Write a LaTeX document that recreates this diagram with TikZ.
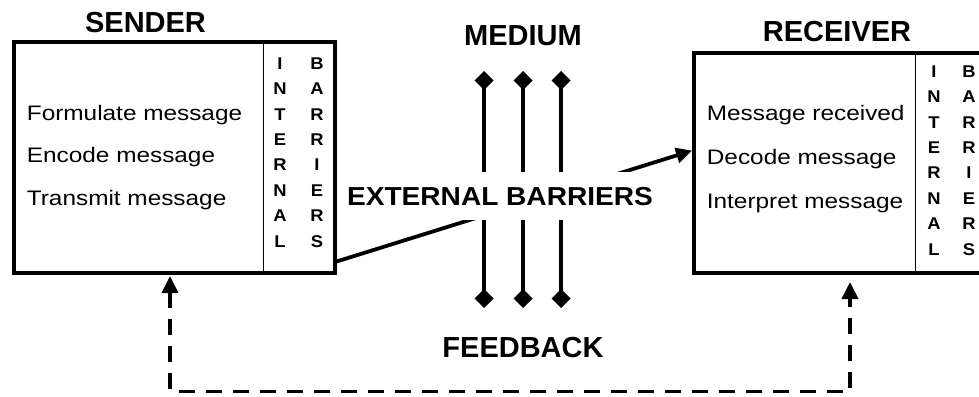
\documentclass[tikz,border=0pt]{standalone}
\usepackage{fontspec}
\setmainfont{Liberation Sans}
\newfontfamily\widesans[FakeStretch=1.16]{Liberation Sans}
\newfontfamily\midsans[FakeStretch=1.08]{Liberation Sans}
\usepackage{tikz}
\usetikzlibrary{arrows.meta}
\usetikzlibrary{positioning}

\begin{document}
\begin{tikzpicture}[x=1pt,y=-1pt,line width=3.8pt]
 \tikzset{
 	party box/.style={rectangle,draw,line width=4pt,inner sep=0pt,outer sep=0pt},
 	step text/.style={anchor=base west,inner sep=0pt,align=left},
 	letter col/.style={anchor=base,inner sep=0pt,align=center,
 	  font=\midsans\bfseries\fontsize{17}{25.4}\selectfont},
 	heading/.style={inner sep=0pt,font=\bfseries\fontsize{29}{31}\selectfont},
 	channel/.style={{Diamond[length=19pt,width=19pt]}-{Diamond[length=19pt,width=19pt]}},
 	feedback line/.style={dash pattern=on 16pt off 11pt,
 	  {Triangle[length=17pt,width=16pt]}-{Triangle[length=17pt,width=16pt]}}
 }
 \useasboundingbox (0,0) rectangle (979,396);

       \node[party box,minimum width=321pt,minimum height=230pt] (sender) at (174.5,157.5) {};
       \node[party box,minimum width=306pt,minimum height=219pt] (receiver) at (847,163) {};

       \node[heading] (sendtitle) [above=7.5pt of sender,xshift=-29pt] {SENDER};
       \node[heading] (recvtitle) [above=9.5pt of receiver,xshift=-10pt] {RECEIVER};

       % base of a stacked node = baseline of its last line
       \node[step text,font=\widesans\fontsize{21}{42.5}\selectfont] (sendsteps) at (25,205)
         {Formulate message\\Encode message\\Transmit message};
       \node[step text,font=\widesans\fontsize{21}{44}\selectfont] (recvsteps) at (705,208)
         {Message received\\Decode message\\Interpret message};

       \node[letter col] (sendint) at (280,247) {I\\N\\T\\E\\R\\N\\A\\L};
       \node[letter col] (sendbar) at (317,247) {B\\A\\R\\R\\I\\E\\R\\S};
       \node[letter col] (recvint) at (934,255) {I\\N\\T\\E\\R\\N\\A\\L};
       \node[letter col] (recvbar) at (969,255) {B\\A\\R\\R\\I\\E\\R\\S};

     \draw[line width=1pt] ([xshift=-72pt]sender.north east) -- ([xshift=-72pt]sender.south east);
     \draw[line width=1pt] ([xshift=-85pt]receiver.north east) -- ([xshift=-85pt]receiver.south east);

       \coordinate (m1) at (484,71);
       \coordinate (m2) at (523,71);
       \coordinate (m3) at (561,71);
       \coordinate (f1) at (484,308);
       \coordinate (f2) at (523,308);
       \coordinate (f3) at (561,308);

     \draw[channel] (m1) -- (f1);
     \draw[channel] (m2) -- (f2);
     \draw[channel] (m3) -- (f3);

     \path[-{Triangle[length=16pt,width=15pt]},shorten >=2pt]
       ([yshift=10.5pt]sender.south east) edge ([yshift=13pt]receiver.west);

       \node[heading] (medium) [above=23pt of m2] {MEDIUM};
       \node[heading] (feedback) [below=27pt of f2] {FEEDBACK};

       \node[anchor=base,fill=white,inner xsep=3pt,inner ysep=14.4pt,
         font=\midsans\bfseries\fontsize{26}{28}\selectfont] (external) at (500,205) {EXTERNAL BARRIERS};

       \coordinate (sendin) at ([xshift=-4.5pt,yshift=-3.5pt]sender.south);
       \coordinate (recvin) at ([xshift=3pt,yshift=-9.5pt]receiver.south);
     \draw[feedback line] (sendin) -- ++(0,115.5) -| (recvin);
 \end{tikzpicture}
\end{document}
